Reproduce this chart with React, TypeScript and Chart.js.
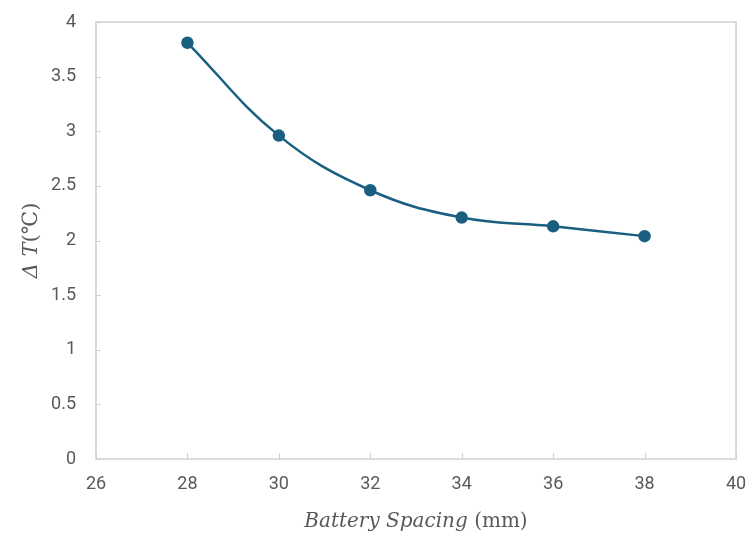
import React, { useEffect, useRef } from "react";
import { Chart, registerables } from "chart.js";

Chart.register(...registerables);

const spacing = [28, 30, 32, 34, 36, 38];
const deltaT = [3.81, 2.96, 2.46, 2.21, 2.13, 2.04];
const xTicks = [26, 28, 30, 32, 34, 36, 38, 40];
const yTicks = [0, 0.5, 1, 1.5, 2, 2.5, 3, 3.5, 4];

const LINE = "#195f80";
const AXIS = "#d0d0d0";
const TEXT = "#595959";

const framePlugin = {
  id: "frame",
  afterDraw(chart: any) {
    const { ctx, chartArea } = chart;
    const { left, right, top, bottom } = chartArea;
    const xs = chart.scales.x;
    const ys = chart.scales.y;
    ctx.save();
    ctx.strokeStyle = AXIS;
    ctx.lineWidth = 1.5;
    ctx.strokeRect(left, top, right - left, bottom - top);
    ctx.lineWidth = 1;
    ctx.beginPath();
    xTicks.forEach((v) => {
      const px = Math.round(xs.getPixelForValue(v)) + 0.5;
      ctx.moveTo(px, bottom);
      ctx.lineTo(px, bottom - 6);
    });
    yTicks.forEach((v) => {
      const py = Math.round(ys.getPixelForValue(v)) + 0.5;
      ctx.moveTo(left, py);
      ctx.lineTo(left + 5, py);
    });
    ctx.stroke();

    // X title
    ctx.fillStyle = TEXT;
    ctx.textBaseline = "alphabetic";
    const f1 = "italic 20px 'DejaVu Serif'";
    const f2 = "20px 'DejaVu Serif'";
    const p1 = "Battery Spacing";
    const p2 = " (mm)";
    ctx.font = f1;
    const w1 = ctx.measureText(p1).width;
    ctx.font = f2;
    const w2 = ctx.measureText(p2).width;
    const cx = (left + right) / 2;
    const x0 = cx - (w1 + w2) / 2;
    const yb = 527;
    ctx.font = f1;
    ctx.fillText(p1, x0, yb);
    ctx.font = f2;
    ctx.fillText(p2, x0 + w1, yb);

    // Y title
    ctx.translate(37, (top + bottom) / 2);
    ctx.rotate(-Math.PI / 2);
    const parts: [string, string][] = [
      ["Δ", "italic 21px 'DejaVu Serif'"],
      [" T", "italic 21px 'DejaVu Serif'"],
      ["(℃)", "21px 'DejaVu Serif'"],
    ];
    let total = 0;
    const widths = parts.map(([t, f]) => {
      ctx.font = f;
      const w = ctx.measureText(t).width;
      total += w;
      return w;
    });
    let xx = -total / 2;
    parts.forEach(([t, f], i) => {
      ctx.font = f;
      ctx.fillText(t, xx, 0);
      xx += widths[i];
    });
    ctx.restore();
  },
};

export default function App() {
  const ref = useRef<HTMLCanvasElement>(null);
  useEffect(() => {
    if (!ref.current) return;
    const chart = new Chart(ref.current, {
      type: "line",
      data: {
        datasets: [
          {
            data: spacing.map((x, i) => ({ x, y: deltaT[i] })),
            borderColor: LINE,
            backgroundColor: LINE,
            borderWidth: 2.5,
            pointRadius: 5,
            pointBackgroundColor: LINE,
            pointBorderColor: LINE,
            tension: 0.4,
            fill: false,
          },
        ],
      },
      options: {
        animation: false,
        responsive: false,
        maintainAspectRatio: false,
        layout: { padding: { left: 0, top: 22, right: 10, bottom: 0 } },
        plugins: { legend: { display: false }, tooltip: { enabled: false } },
        scales: {
          x: {
            type: "linear",
            min: 26,
            max: 40,
            afterBuildTicks: (s: any) => {
              s.ticks = xTicks.map((v) => ({ value: v }));
            },
            afterFit: (s: any) => {
              s.height = 75;
              s.paddingLeft = 0;
              s.paddingRight = 0;
            },
            grid: { display: false, drawTicks: false },
            border: { display: false },
            ticks: {
              color: TEXT,
              font: { family: "Roboto", size: 18 },
              padding: 15,
              maxRotation: 0,
              callback: (v: any) => String(v),
            },
          },
          y: {
            type: "linear",
            min: 0,
            max: 4,
            afterBuildTicks: (s: any) => {
              s.ticks = yTicks.map((v) => ({ value: v }));
            },
            afterFit: (s: any) => {
              s.width = 96;
              s.paddingTop = 0;
              s.paddingBottom = 0;
            },
            grid: { display: false, drawTicks: false },
            border: { display: false },
            ticks: {
              color: TEXT,
              font: { family: "Roboto", size: 18 },
              padding: 20,
              callback: (v: any) => String(v),
            },
          },
        },
      },
      plugins: [framePlugin],
    });
    return () => chart.destroy();
  }, []);
  return (
    <div style={{ position: "fixed", left: 0, top: 0, width: 746, height: 534, background: "#fff" }}>
      <canvas ref={ref} width={746} height={534} style={{ width: 746, height: 534 }} />
    </div>
  );
}
